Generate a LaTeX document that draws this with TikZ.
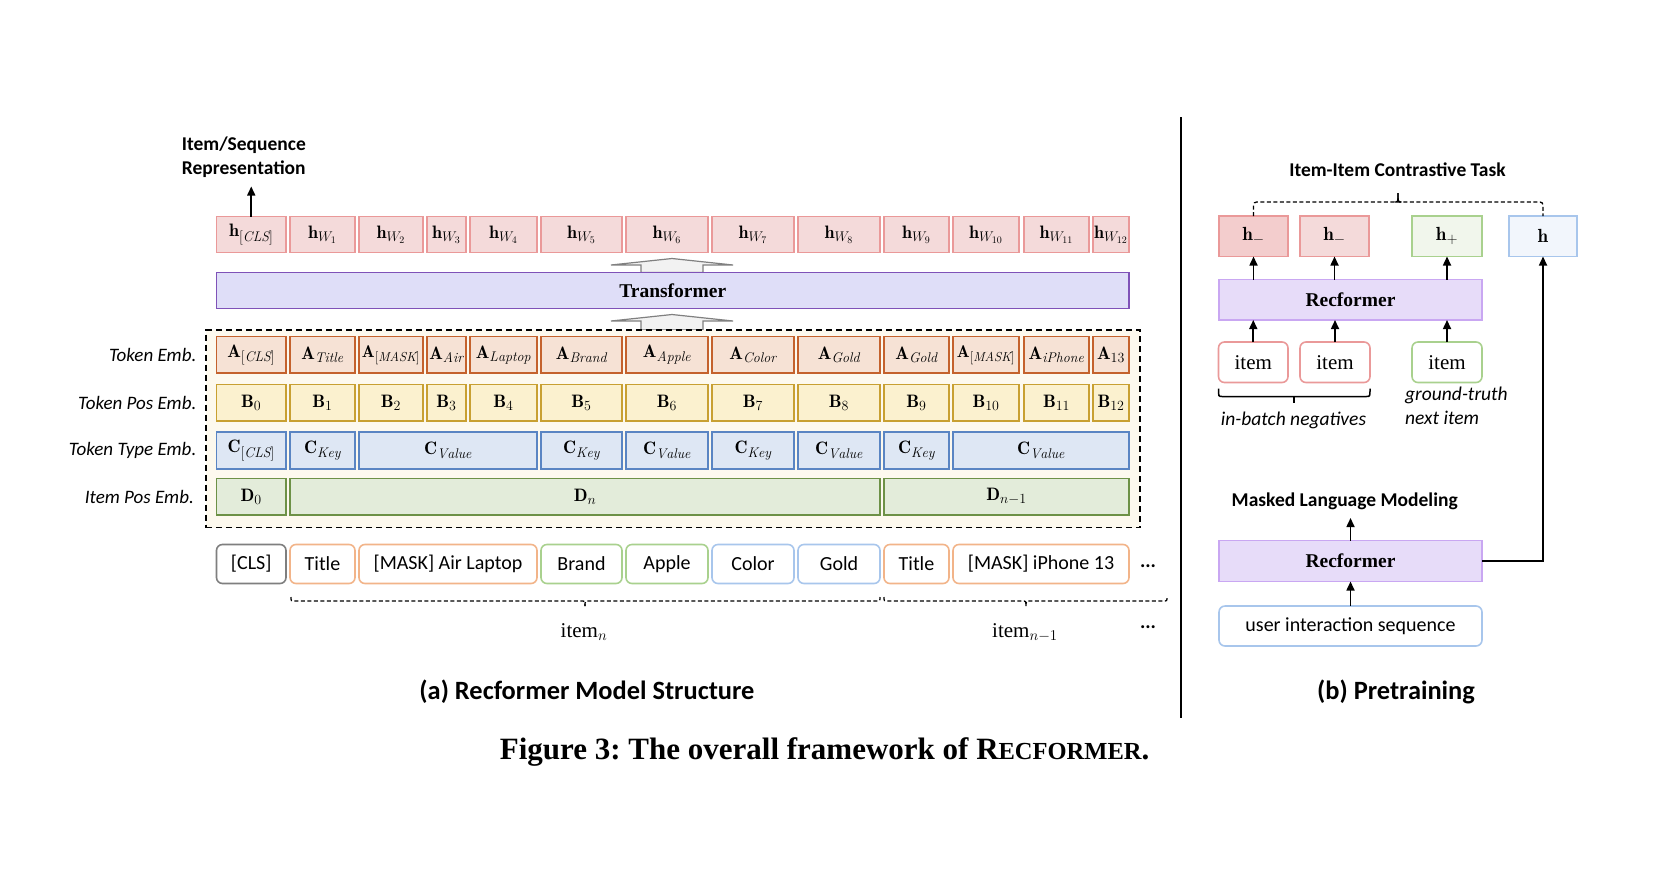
\RequirePackage{fix-cm}
\documentclass[tikz,border=0pt]{standalone}
\usepackage{fontspec}
\newfontfamily\cf{Carlito}
\newfontfamily\lsr{Liberation Serif}
\usetikzlibrary{arrows.meta}
\DeclareMathSizes{17}{17}{13}{9.5}
\DeclareMathSizes{18}{18}{14}{10}
\DeclareMathSizes{19}{19}{14.5}{10.5}
\DeclareMathSizes{21}{21}{15}{11}
\frenchspacing
\definecolor{hfill}{HTML}{F4DADA}
\definecolor{hfilld}{HTML}{F3CDCD}
\definecolor{hdraw}{HTML}{EA9999}
\definecolor{tffill}{HTML}{DFDEF8}
\definecolor{tfdraw}{HTML}{7F52B8}
\definecolor{afill}{HTML}{F6E2D5}
\definecolor{adraw}{HTML}{C4622D}
\definecolor{bfill}{HTML}{FBF1CF}
\definecolor{bdraw}{HTML}{C8A032}
\definecolor{cfill}{HTML}{DEE7F4}
\definecolor{cdraw}{HTML}{5A85C3}
\definecolor{dfill}{HTML}{E3ECDA}
\definecolor{ddraw}{HTML}{6D9146}
\definecolor{cream}{HTML}{FDF9EE}
\definecolor{tgray}{HTML}{7F7F7F}
\definecolor{torange}{HTML}{F2B489}
\definecolor{tgreen}{HTML}{A9D18E}
\definecolor{tblue}{HTML}{A8C6EC}
\definecolor{pfill}{HTML}{F1F6EC}
\definecolor{bbfill}{HTML}{F2F6FC}
\definecolor{rffill}{HTML}{E7DCF9}
\definecolor{rfdraw}{HTML}{C9A7F2}
\definecolor{hollow}{HTML}{F2F2F2}
\definecolor{hollowd}{HTML}{808080}
\newcommand\fsz[2]{\fontsize{#1}{#2}\selectfont}
\newcommand\mybox[7]{\node[#1, minimum width={#3-#2}, minimum height={#5-#4}] (#6) at ({(#2+#3)/2},{(#4+#5)/2}) {#7};}
\tikzset{
  bxs/.style={draw, line width=1.6pt, inner sep=0pt, outer sep=0pt, font=\fsz{18}{20}},
  hb/.style={bxs, fill=hfill, draw=hdraw},
  ab/.style={bxs, fill=afill, draw=adraw},
  bb/.style={bxs, fill=bfill, draw=bdraw},
  cb/.style={bxs, fill=cfill, draw=cdraw},
  db/.style={bxs, fill=dfill, draw=ddraw},
  tfb/.style={bxs, fill=tffill, draw=tfdraw, font=\lsr\bfseries\fsz{19.5}{22}},
  dashbox/.style={draw, dashed, dash pattern=on 6pt off 4pt, line width=1.5pt, fill=cream, inner sep=0pt, outer sep=0pt},
  tok/.style={draw, line width=1.6pt, fill=white, rounded corners=6pt, inner sep=0pt, outer sep=0pt, font=\cf\fsz{20}{24}},
  rfb/.style={bxs, fill=rffill, draw=rfdraw, font=\lsr\bfseries\fsz{19.5}{22}},
  itm/.style={tok, font=\lsr\fsz{21}{24}},
  arr/.style={line width=1.6pt, -{Triangle[length=9pt,width=8pt]}},
  harrow/.style={draw=hollowd, fill=hollow, line width=1.2pt, line join=miter},
  brc/.style={dashed, dash pattern=on 4pt off 2.5pt, line width=1.3pt},
  sbrc/.style={line width=1.5pt},
  leftlab/.style={anchor=east, inner sep=0pt, font=\cf\itshape\fsz{19}{22}},
  boldlab/.style={inner sep=0pt, font=\cf\bfseries\fsz{19.5}{23}},
  caplab/.style={inner sep=0pt, anchor=base, font=\cf\bfseries\fsz{26.4}{30}},
  itlab/.style={inner sep=0pt, font=\cf\itshape\fsz{19.5}{23}},
}
\begin{document}
\begin{tikzpicture}[x=1pt,y=-1pt]
\useasboundingbox[fill=white] (0,0) rectangle (1664,871);

% ---------- (a) ----------
\node[boldlab, anchor=base west] (isr1) at (181.7,150.7) {Item/Sequence};
\node[boldlab, anchor=base west] (isr2) at (181.7,174) {Representation};
\coordinate (isr) at (251.25,186.5);

% h row
\foreach \n/\l/\r/\s in {0/216.5/286/{[\mathit{CLS}]},1/290/355/{W_1},2/359/423/{W_2},3/427/466/{W_3},4/470/537/{W_4},5/541/622/{W_5},6/626/708/{W_6},7/712/794/{W_7},8/798/880/{W_8},9/884/949/{W_9},10/953/1019/{W_{10}},11/1024/1089/{W_{11}},12/1093/1129/{W_{12}}}
  {\mybox{hb}{\l}{\r}{216.5}{252.5}{h\n}{$\mathbf{h}_{\s}$}}
\draw[arr] (h0.north) -- (isr);

% transformer
\draw[harrow] (611,265) -- (672,258.5) -- (733,265) -- (703,265) -- (703,272.5) -- (641,272.5) -- (641,265) -- cycle;
\mybox{tfb}{216.5}{1129}{272.5}{308.5}{tf}{Transformer}
\draw[harrow] (611,321) -- (672,314.5) -- (733,321) -- (703,321) -- (703,330) -- (641,330) -- (641,321) -- cycle;

% embedding box
\mybox{dashbox}{206}{1140}{330}{527.5}{emb}{}

% A row
\foreach \n/\l/\r/\s in {0/216.5/286/{[\mathit{CLS}]},1/290/355/{\mathit{Title}},3/427/466/{\mathit{Air}},4/470/537/{\mathit{Laptop}},5/541/622/{\mathit{Brand}},6/626/708/{\mathit{Apple}},7/712/794/{\mathit{Color}},8/798/880/{\mathit{Gold}},9/884/949/{\mathit{Gold}},11/1024/1089/{\mathit{iPhone}},12/1093/1129/{13}}
  {\mybox{ab}{\l}{\r}{336.5}{373}{a\n}{$\mathbf{A}_{\s}$}}
\mybox{ab, font=\fsz{17}{20}}{359}{423}{336.5}{373}{a2}{$\mathbf{A}_{[\mathit{MASK}]}$}
\mybox{ab, font=\fsz{17}{20}}{953}{1019}{336.5}{373}{a10}{$\mathbf{A}_{[\mathit{MASK}]}$}

% B row
\foreach \n/\l/\r in {0/216.5/286,1/290/355,2/359/423,3/427/466,4/470/537,5/541/622,6/626/708,7/712/794,8/798/880,9/884/949,10/953/1019,11/1024/1089,12/1093/1129}
  {\mybox{bb}{\l}{\r}{384.5}{421}{b\n}{$\mathbf{B}_{\n}$}}

% C row
\foreach \n/\l/\r/\s in {0/216.5/286/{[\mathit{CLS}]},1/290/355/{\mathit{Key}},2/359/537/{\mathit{Value}},3/541/622/{\mathit{Key}},4/626/708/{\mathit{Value}},5/712/794/{\mathit{Key}},6/798/880/{\mathit{Value}},7/884/949/{\mathit{Key}},8/953/1129/{\mathit{Value}}}
  {\mybox{cb}{\l}{\r}{432}{469}{c\n}{$\mathbf{C}_{\s}$}}

% D row
\mybox{db}{216.5}{286}{478.5}{515}{d0}{$\mathbf{D}_{0}$}
\mybox{db}{290}{880}{478.5}{515}{d1}{$\mathbf{D}_{n}$}
\mybox{db}{884}{1129}{478.5}{515}{d2}{$\mathbf{D}_{n-1}$}

% left labels
\node[leftlab] (l1) at (196.5,354.75) {Token Emb.};
\node[leftlab] (l2) at (196.5,402.75) {Token Pos Emb.};
\node[leftlab] (l3) at (196.5,450.5) {Token Type Emb.};
\node[leftlab] (l4) at (194,497) {Item Pos Emb.};

% tokens
\mybox{tok, draw=tgray}{216.5}{286}{544.5}{583.5}{t0}{[CLS]}
\mybox{tok, draw=torange}{290}{355}{544.5}{583.5}{t1}{Title}
\mybox{tok, draw=torange}{359}{537}{544.5}{583.5}{t2}{[MASK] Air Laptop}
\mybox{tok, draw=tgreen}{541}{622}{544.5}{583.5}{t3}{Brand}
\mybox{tok, draw=tgreen}{626}{708}{544.5}{583.5}{t4}{Apple}
\mybox{tok, draw=tblue}{712}{794}{544.5}{583.5}{t5}{Color}
\mybox{tok, draw=tblue}{798}{880}{544.5}{583.5}{t6}{Gold}
\mybox{tok, draw=torange}{884}{949}{544.5}{583.5}{t7}{Title}
\mybox{tok, draw=torange}{953}{1129}{544.5}{583.5}{t8}{[MASK] iPhone 13}
\node[inner sep=0pt, font=\cf\bfseries\fsz{20}{24}] (dots1) at (1148,566) {...};

% dashed braces
\draw[brc] (291,597) .. controls (291,601) .. (295,601) -- (581,601) .. controls (585,601) .. (585,606);
\draw[brc] (585,606) .. controls (585,601) .. (589,601) -- (876,601) .. controls (880,601) .. (880,597);
\draw[brc] (884,597) .. controls (884,601) .. (888,601) -- (1022,601) .. controls (1026,601) .. (1026,606);
\draw[brc] (1026,606) .. controls (1026,601) .. (1030,601) -- (1163,601) .. controls (1167,601) .. (1167,597);
\node[inner sep=0pt, anchor=base, font=\fsz{21}{24}] (itn) at (584,637) {{\lsr item}$_{n}$};
\node[inner sep=0pt, anchor=base, font=\fsz{21}{24}] (itn1) at (1025,637) {{\lsr item}$_{n-1}$};
\node[inner sep=0pt, font=\cf\bfseries\fsz{20}{24}] (dots2) at (1148,627) {...};

\node[caplab] (capa) at (587,699.5) {(a) Recformer Model Structure};

% separator
\draw[line width=1.5pt] (1181,117) -- (1181,718);

% ---------- (b) ----------
\node[boldlab, anchor=base] (ict) at (1397.5,176.7) {Item-Item Contrastive Task};
\mybox{hb, fill=hfilld, font=\fsz{19}{22}}{1219}{1288}{216}{256.5}{hm1}{$\mathbf{h}_{-}$}
\mybox{hb, font=\fsz{19}{22}}{1300}{1369}{216}{256.5}{hm2}{$\mathbf{h}_{-}$}
\mybox{bxs, fill=pfill, draw=tgreen, font=\fsz{19}{22}}{1412}{1482}{216}{256.5}{hp}{$\mathbf{h}_{+}$}
\mybox{bxs, fill=bbfill, draw=tblue, font=\fsz{19}{22}}{1509}{1577}{216}{256.5}{hh}{$\mathbf{h}$}
\draw[brc, rounded corners=3pt] (hm1.north) -- (1253.5,202) -- (1543,202) -- (hh.north);
\draw[line width=1.3pt] (1394.5,202) .. controls (1398,202) .. (1398,193);
\draw[line width=1.3pt] (1401.5,202) .. controls (1398,202) .. (1398,193);

\mybox{rfb}{1219}{1482}{279.5}{320}{rf1}{Recformer}
\mybox{itm, draw=hdraw}{1218.5}{1288}{342}{382.5}{i1}{item}
\mybox{itm, draw=hdraw}{1300}{1370}{342}{382.5}{i2}{item}
\mybox{itm, draw=tgreen}{1412}{1482}{342}{382.5}{i3}{item}
\draw[arr] (i1.north) -- (i1.north |- rf1.south);
\draw[arr] (i2.north) -- (i2.north |- rf1.south);
\draw[arr] (i3.north) -- (i3.north |- rf1.south);
\draw[arr] (hm1.south |- rf1.north) -- (hm1.south);
\draw[arr] (hm2.south |- rf1.north) -- (hm2.south);
\draw[arr] (hp.south |- rf1.north) -- (hp.south);

\draw[sbrc] (1218.5,388.5) .. controls (1218.5,396.5) .. (1222,396.5) -- (1366.5,396.5) .. controls (1370,396.5) .. (1370,388.5);
\draw[sbrc] (1294,396.5) -- (1294,403);
\node[itlab, anchor=base] (ibn) at (1293.5,425) {in-batch negatives};
\node[itlab, anchor=base west] (gt1) at (1405,400.7) {ground-truth};
\node[itlab, anchor=base west] (gt2) at (1405,424) {next item};

\node[boldlab, anchor=base] (mlm) at (1344.7,506.7) {Masked Language Modeling};
\coordinate (mlmc) at (1350.5,518);
\mybox{rfb}{1219}{1482}{540.5}{581.5}{rf2}{Recformer}
\mybox{tok, draw=tblue}{1219}{1482}{606}{646}{uis}{user interaction sequence}
\draw[arr] (uis.north) -- (rf2.south);
\draw[arr] (rf2.north) -- (mlmc);
\draw[arr] (rf2.east) -| (hh.south);

\node[caplab] (capb) at (1396,699.5) {(b) Pretraining};

% caption
\node[inner sep=0pt, anchor=base, font=\lsr\bfseries\fsz{31}{36}] (fig) at (824.6,759) {Figure 3: The overall framework of R{\fsz{24.5}{28}ECFORMER}.};
\end{tikzpicture}
\end{document}
